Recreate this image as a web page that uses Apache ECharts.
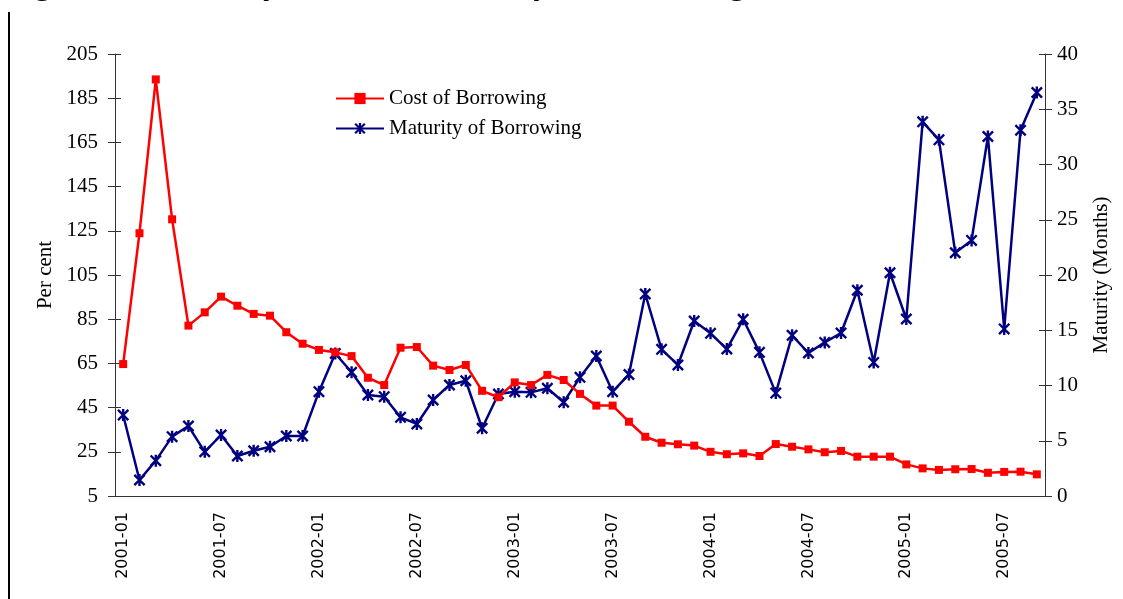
<!DOCTYPE html>
<html>
<head>
<meta charset="utf-8">
<script src="https://cdn.jsdelivr.net/npm/echarts@6/dist/echarts.min.js"></script>
<style>
  html, body { margin: 0; padding: 0; background: #fff; }
  #main { width: 1123px; height: 599px; }
</style>
</head>
<body>
<div id="main"></div>
<script>
// months on the x axis
var months = ['2001-01','2001-02','2001-03','2001-04','2001-05','2001-06','2001-07','2001-08','2001-09','2001-10','2001-11','2001-12',
  '2002-01','2002-02','2002-03','2002-04','2002-05','2002-06','2002-07','2002-08','2002-09','2002-10','2002-11','2002-12',
  '2003-01','2003-02','2003-03','2003-04','2003-05','2003-06','2003-07','2003-08','2003-09','2003-10','2003-11','2003-12',
  '2004-01','2004-02','2004-03','2004-04','2004-05','2004-06','2004-07','2004-08','2004-09','2004-10','2004-11','2004-12',
  '2005-01','2005-02','2005-03','2005-04','2005-05','2005-06','2005-07','2005-08','2005-09'];

// cost of borrowing, per cent (left axis)
var cost = [64.7,123.9,193.5,130.2,82.1,88.1,95.2,91.1,87.4,86.6,
  79.1,73.9,71.1,70.0,68.3,58.5,55.2,72.1,72.4,64.0,
  62.0,64.3,52.6,49.7,56.4,55.2,59.8,57.5,51.2,45.9,
  45.9,38.6,31.8,29.1,28.4,27.8,25.0,23.9,24.3,23.1,
  28.5,27.3,26.1,24.8,25.4,22.8,22.8,22.8,19.3,17.5,
  16.8,17.1,17.2,15.5,15.9,16.0,14.8];

// maturity of borrowing, months (right axis)
var maturity = [7.33,1.45,3.2,5.37,6.33,4.0,5.52,3.62,4.1,4.46,
  5.43,5.43,9.44,12.9,11.2,9.14,8.99,7.12,6.52,8.69,
  10.05,10.43,6.13,9.23,9.44,9.38,9.75,8.48,10.74,12.67,
  9.44,11.0,18.28,13.27,11.86,15.84,14.72,13.3,15.99,13.0,
  9.31,14.54,12.94,13.9,14.75,18.62,12.09,20.2,16.02,33.86,
  32.23,22.01,23.13,32.53,15.12,33.1,36.52];

var serif = '"Liberation Serif", "Times New Roman", serif';
var axisColor = '#333';
// asterisk marker (x with a vertical bar)
var asterisk = 'path://M4,0 L6,0 L6,10 L4,10 Z M0,1.4 L1.4,0 L10,8.6 L8.6,10 Z M8.6,0 L10,1.4 L1.4,10 L0,8.6 Z';

var chart = echarts.init(document.getElementById('main'));

var option = {
  backgroundColor: '#fff',
  animation: false,
  textStyle: { fontFamily: serif },
  graphic: [
    { // left border of the page
      type: 'rect',
      shape: { x: 8, y: 12, width: 2, height: 600 },
      style: { fill: '#000' }
    },
    { // cropped figure title, only the descenders show
      type: 'text',
      x: 5,
      y: -15,
      style: {
        text: 'Figure 10: Monthly Cost and Maturity of Borrowing',
        fontSize: 33, fontWeight: 'bold', fontFamily: serif,
        verticalAlign: 'middle',
        fill: '#000'
      }
    }
  ],
  grid: { left: 115, right: 78, top: 54, bottom: 103, outerBoundsMode: 'none', containLabel: false },
  legend: {
    orient: 'vertical',
    left: 330,
    top: 83,
    itemWidth: 48,
    itemHeight: 14,
    itemGap: 9,
    textStyle: { fontFamily: serif, fontSize: 21, color: '#000' },
    data: ['Cost of Borrowing', 'Maturity of Borrowing']
  },
  xAxis: [
    {
      type: 'category',
      position: 'bottom',
      data: months,
      axisLine: { onZero: false, lineStyle: { color: axisColor, width: 1 } },
      axisTick: { interval: 0, length: 7, lineStyle: { color: axisColor } },
      axisLabel: {
        interval: 5,
        rotate: 90,
        margin: 16,
        fontFamily: '"DejaVu Sans", sans-serif',
        fontSize: 16,
        color: '#000'
      },
      splitLine: { show: false }
    },
    { // inner half of the cross ticks
      type: 'category',
      position: 'bottom',
      data: months,
      axisLine: { show: false, onZero: false },
      axisTick: { interval: 0, inside: true, length: 4, lineStyle: { color: axisColor } },
      axisLabel: { show: false },
      splitLine: { show: false }
    }
  ],
  yAxis: [
    {
      type: 'value',
      position: 'left',
      min: 5, max: 205, interval: 20,
      name: 'Per cent',
      nameLocation: 'middle',
      nameGap: 59,
      nameTextStyle: { fontFamily: serif, fontSize: 21, color: '#000' },
      axisLine: { show: true, lineStyle: { color: axisColor, width: 1 } },
      axisTick: { show: true, length: 7, lineStyle: { color: axisColor } },
      axisLabel: { margin: 17, fontFamily: serif, fontSize: 21, color: '#000' },
      splitLine: { show: false }
    },
    {
      type: 'value',
      position: 'right',
      min: 0, max: 40, interval: 5,
      name: 'Maturity (Months)',
      nameLocation: 'middle',
      nameGap: 46,
      nameRotate: 90,
      nameTextStyle: { fontFamily: serif, fontSize: 21, color: '#000' },
      axisLine: { show: true, lineStyle: { color: axisColor, width: 1 } },
      axisTick: { show: true, length: 7, lineStyle: { color: axisColor } },
      axisLabel: { margin: 12, fontFamily: serif, fontSize: 21, color: '#000' },
      splitLine: { show: false }
    },
    { // inner half of left cross ticks
      type: 'value',
      position: 'left',
      min: 5, max: 205, interval: 20,
      axisLine: { show: false },
      axisTick: { show: true, inside: true, length: 6, lineStyle: { color: axisColor } },
      axisLabel: { show: false },
      splitLine: { show: false }
    },
    { // inner half of right cross ticks
      type: 'value',
      position: 'right',
      min: 0, max: 40, interval: 5,
      axisLine: { show: false },
      axisTick: { show: true, inside: true, length: 6, lineStyle: { color: axisColor } },
      axisLabel: { show: false },
      splitLine: { show: false }
    }
  ],
  series: [
    {
      name: 'Cost of Borrowing',
      type: 'line',
      xAxisIndex: 0,
      yAxisIndex: 0,
      data: cost,
      symbol: 'rect',
      symbolSize: 8,
      showAllSymbol: true,
      lineStyle: { color: '#ff0000', width: 2.5 },
      itemStyle: { color: '#ff0000', borderWidth: 0 },
      z: 3
    },
    {
      name: 'Maturity of Borrowing',
      type: 'line',
      xAxisIndex: 0,
      yAxisIndex: 1,
      data: maturity,
      symbol: asterisk,
      symbolSize: 12,
      showAllSymbol: true,
      lineStyle: { color: '#000080', width: 2.5 },
      itemStyle: { color: '#000080', borderWidth: 0 },
      z: 2
    }
  ]
};

chart.setOption(option);
</script>
</body>
</html>
